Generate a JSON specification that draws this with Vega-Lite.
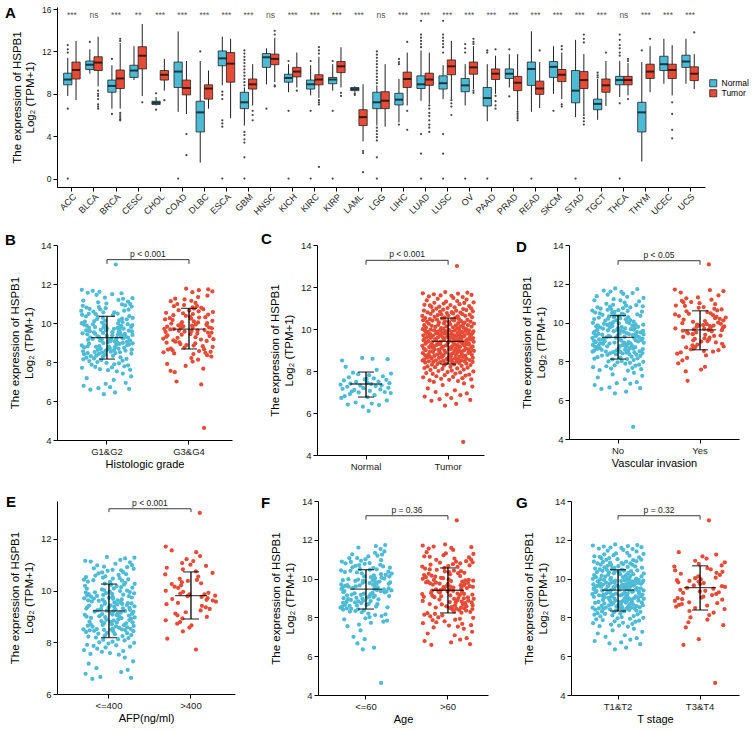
{
"$schema": "https://vega.github.io/schema/vega-lite/v6.json",
"padding": {"left": 5, "top": 5, "right": 0, "bottom": 0},
"spacing": 15,
"resolve": {"scale": {"color": "independent", "xOffset": "independent"}},
"config": {
  "font": "Liberation Sans",
  "view": {"stroke": null},
  "axis": {"grid": false, "domainColor": "#000", "tickColor": "#000", "labelColor": "#1a1a1a", "labelFontSize": 9.5, "titleFontSize": 11.5, "titleFontWeight": "normal", "titleColor": "#000", "tickSize": 4, "labelPadding": 2, "domainWidth": 1, "tickWidth": 1, "labelOverlap": false},
  "axisY": {"titlePadding": 6, "labelOverlap": false, "labelFlush": false, "tickCount": 12, "format": "d"},
  "axisX": {"titlePadding": 3, "titleFontSize": 11},
  "title": {"fontSize": 15, "fontWeight": "bold", "anchor": "start", "frame": "group", "offset": 0, "baseline": "alphabetic", "color": "#000", "font": "Liberation Sans"}
},
"datasets": {
"box": [
{"t":"ACC","g":"Normal","lo":7.8,"q1":8.85,"md":9.35,"q3":9.95,"hi":11.4},
{"t":"ACC","g":"Tumor","lo":7.4,"q1":9.4,"md":10.25,"q3":11.0,"hi":13.0},
{"t":"BLCA","g":"Normal","lo":9.9,"q1":10.3,"md":10.75,"q3":11.1,"hi":12.2},
{"t":"BLCA","g":"Tumor","lo":8.7,"q1":10.2,"md":10.95,"q3":11.5,"hi":13.4},
{"t":"BRCA","g":"Normal","lo":6.6,"q1":8.15,"md":8.75,"q3":9.3,"hi":10.7},
{"t":"BRCA","g":"Tumor","lo":6.6,"q1":8.5,"md":9.45,"q3":10.25,"hi":12.8},
{"t":"CESC","g":"Normal","lo":9.3,"q1":9.55,"md":10.2,"q3":10.7,"hi":12.5},
{"t":"CESC","g":"Tumor","lo":7.8,"q1":10.35,"md":11.6,"q3":12.45,"hi":14.6},
{"t":"CHOL","g":"Normal","lo":6.9,"q1":7.0,"md":7.15,"q3":7.3,"hi":7.7},
{"t":"CHOL","g":"Tumor","lo":8.3,"q1":9.3,"md":9.8,"q3":10.2,"hi":11.3},
{"t":"COAD","g":"Normal","lo":6.3,"q1":8.6,"md":10.1,"q3":11.0,"hi":13.9},
{"t":"COAD","g":"Tumor","lo":6.1,"q1":7.9,"md":8.55,"q3":9.3,"hi":11.1},
{"t":"DLBC","g":"Normal","lo":1.5,"q1":4.4,"md":6.25,"q3":7.3,"hi":11.1},
{"t":"DLBC","g":"Tumor","lo":6.6,"q1":7.5,"md":8.5,"q3":8.85,"hi":10.2},
{"t":"ESCA","g":"Normal","lo":8.8,"q1":10.65,"md":11.35,"q3":12.05,"hi":13.4},
{"t":"ESCA","g":"Tumor","lo":5.7,"q1":9.1,"md":10.85,"q3":11.9,"hi":13.2},
{"t":"GBM","g":"Normal","lo":5.0,"q1":6.6,"md":7.2,"q3":8.15,"hi":8.6},
{"t":"GBM","g":"Tumor","lo":6.9,"q1":8.45,"md":8.9,"q3":9.4,"hi":10.8},
{"t":"HNSC","g":"Normal","lo":8.9,"q1":10.5,"md":11.45,"q3":11.8,"hi":12.3},
{"t":"HNSC","g":"Tumor","lo":9.1,"q1":10.75,"md":11.3,"q3":11.75,"hi":13.3},
{"t":"KICH","g":"Normal","lo":8.15,"q1":9.1,"md":9.5,"q3":9.85,"hi":10.8},
{"t":"KICH","g":"Tumor","lo":8.6,"q1":9.6,"md":10.1,"q3":10.5,"hi":11.9},
{"t":"KIRC","g":"Normal","lo":7.85,"q1":8.45,"md":8.9,"q3":9.3,"hi":10.7},
{"t":"KIRC","g":"Tumor","lo":7.6,"q1":8.85,"md":9.35,"q3":9.8,"hi":11.5},
{"t":"KIRP","g":"Normal","lo":8.3,"q1":8.95,"md":9.35,"q3":9.55,"hi":10.8},
{"t":"KIRP","g":"Tumor","lo":8.6,"q1":10.0,"md":10.6,"q3":11.05,"hi":12.4},
{"t":"LAML","g":"Normal","lo":8.2,"q1":8.3,"md":8.45,"q3":8.6,"hi":8.7},
{"t":"LAML","g":"Tumor","lo":3.5,"q1":5.0,"md":5.8,"q3":6.5,"hi":8.9},
{"t":"LGG","g":"Normal","lo":5.0,"q1":6.6,"md":7.2,"q3":8.15,"hi":8.8},
{"t":"LGG","g":"Tumor","lo":4.9,"q1":6.6,"md":7.35,"q3":8.2,"hi":10.8},
{"t":"LIHC","g":"Normal","lo":5.3,"q1":6.95,"md":7.45,"q3":8.05,"hi":9.4},
{"t":"LIHC","g":"Tumor","lo":6.9,"q1":8.6,"md":9.4,"q3":10.05,"hi":11.9},
{"t":"LUAD","g":"Normal","lo":7.35,"q1":8.5,"md":8.9,"q3":9.7,"hi":12.1},
{"t":"LUAD","g":"Tumor","lo":7.05,"q1":8.8,"md":9.35,"q3":9.95,"hi":11.9},
{"t":"LUSC","g":"Normal","lo":7.5,"q1":8.45,"md":9.0,"q3":9.7,"hi":10.7},
{"t":"LUSC","g":"Tumor","lo":7.5,"q1":9.8,"md":10.6,"q3":11.2,"hi":13.0},
{"t":"OV","g":"Normal","lo":6.9,"q1":8.2,"md":8.8,"q3":9.45,"hi":10.8},
{"t":"OV","g":"Tumor","lo":8.45,"q1":9.85,"md":10.5,"q3":11.0,"hi":12.5},
{"t":"PAAD","g":"Normal","lo":5.4,"q1":6.85,"md":7.6,"q3":8.6,"hi":10.8},
{"t":"PAAD","g":"Tumor","lo":8.0,"q1":9.35,"md":9.9,"q3":10.35,"hi":11.6},
{"t":"PRAD","g":"Normal","lo":8.6,"q1":9.45,"md":9.9,"q3":10.35,"hi":11.75},
{"t":"PRAD","g":"Tumor","lo":6.4,"q1":8.3,"md":9.05,"q3":9.65,"hi":11.75},
{"t":"READ","g":"Normal","lo":6.3,"q1":8.8,"md":10.35,"q3":11.0,"hi":13.9},
{"t":"READ","g":"Tumor","lo":6.65,"q1":7.95,"md":8.5,"q3":9.2,"hi":11.0},
{"t":"SKCM","g":"Normal","lo":8.0,"q1":9.55,"md":10.55,"q3":11.05,"hi":12.5},
{"t":"SKCM","g":"Tumor","lo":7.5,"q1":9.15,"md":9.8,"q3":10.3,"hi":11.9},
{"t":"STAD","g":"Normal","lo":5.8,"q1":7.15,"md":8.3,"q3":10.2,"hi":13.1},
{"t":"STAD","g":"Tumor","lo":6.1,"q1":8.5,"md":9.3,"q3":10.1,"hi":11.75},
{"t":"TGCT","g":"Normal","lo":5.55,"q1":6.5,"md":7.05,"q3":7.5,"hi":9.4},
{"t":"TGCT","g":"Tumor","lo":6.85,"q1":8.15,"md":8.8,"q3":9.4,"hi":11.1},
{"t":"THCA","g":"Normal","lo":7.7,"q1":8.85,"md":9.3,"q3":9.65,"hi":11.1},
{"t":"THCA","g":"Tumor","lo":7.85,"q1":8.85,"md":9.3,"q3":9.65,"hi":10.9},
{"t":"THYM","g":"Normal","lo":1.6,"q1":4.4,"md":6.25,"q3":7.2,"hi":11.0},
{"t":"THYM","g":"Tumor","lo":8.15,"q1":9.45,"md":10.1,"q3":10.8,"hi":12.5},
{"t":"UCEC","g":"Normal","lo":8.95,"q1":10.2,"md":10.8,"q3":11.55,"hi":13.2},
{"t":"UCEC","g":"Tumor","lo":7.85,"q1":9.45,"md":10.25,"q3":10.8,"hi":12.6},
{"t":"UCS","g":"Normal","lo":8.95,"q1":10.5,"md":11.05,"q3":11.65,"hi":13.2},
{"t":"UCS","g":"Tumor","lo":8.45,"q1":9.25,"md":9.9,"q3":10.55,"hi":11.75}
],
"out": [
{"t":"ACC","g":"Normal","v":12.6},{"t":"ACC","g":"Normal","v":12.2},{"t":"ACC","g":"Normal","v":11.9},{"t":"ACC","g":"Normal","v":6.6},{"t":"ACC","g":"Normal","v":0},
{"t":"BLCA","g":"Normal","v":12.9},{"t":"BLCA","g":"Tumor","v":8.3},{"t":"BLCA","g":"Tumor","v":8.0},{"t":"BLCA","g":"Tumor","v":7.8},{"t":"BLCA","g":"Tumor","v":7.5},{"t":"BLCA","g":"Tumor","v":7.0},{"t":"BLCA","g":"Tumor","v":6.8},{"t":"BLCA","g":"Tumor","v":6.6},
{"t":"BRCA","g":"Normal","v":11.3},{"t":"BRCA","g":"Normal","v":6.1},{"t":"BRCA","g":"Tumor","v":13.2},{"t":"BRCA","g":"Tumor","v":13.0},{"t":"BRCA","g":"Tumor","v":6.2},{"t":"BRCA","g":"Tumor","v":6.0},{"t":"BRCA","g":"Tumor","v":5.8},{"t":"BRCA","g":"Tumor","v":5.6},{"t":"BRCA","g":"Tumor","v":5.5},
{"t":"CESC","g":"Tumor","v":7.2},
{"t":"CHOL","g":"Normal","v":8.05},{"t":"CHOL","g":"Normal","v":6.5},{"t":"CHOL","g":"Tumor","v":7.4},
{"t":"COAD","g":"Normal","v":0},{"t":"COAD","g":"Tumor","v":4.2},{"t":"COAD","g":"Tumor","v":2.2},
{"t":"DLBC","g":"Normal","v":12.0},
{"t":"ESCA","g":"Normal","v":8.2},{"t":"ESCA","g":"Normal","v":7.9},{"t":"ESCA","g":"Normal","v":7.5},{"t":"ESCA","g":"Normal","v":5.5},{"t":"ESCA","g":"Normal","v":5.2},{"t":"ESCA","g":"Normal","v":4.9},{"t":"ESCA","g":"Normal","v":0},
{"t":"GBM","g":"Normal","v":8.8},{"t":"GBM","g":"Normal","v":9.1},{"t":"GBM","g":"Normal","v":9.4},{"t":"GBM","g":"Normal","v":9.7},{"t":"GBM","g":"Normal","v":10.0},{"t":"GBM","g":"Normal","v":10.3},{"t":"GBM","g":"Normal","v":10.6},{"t":"GBM","g":"Normal","v":10.9},{"t":"GBM","g":"Normal","v":11.2},{"t":"GBM","g":"Normal","v":11.5},{"t":"GBM","g":"Normal","v":11.8},{"t":"GBM","g":"Normal","v":12.1},{"t":"GBM","g":"Normal","v":4.4},{"t":"GBM","g":"Normal","v":4.1},{"t":"GBM","g":"Normal","v":3.7},{"t":"GBM","g":"Normal","v":3.4},{"t":"GBM","g":"Normal","v":2.0},{"t":"GBM","g":"Normal","v":0},
{"t":"GBM","g":"Tumor","v":6.4},{"t":"GBM","g":"Tumor","v":6.0},{"t":"GBM","g":"Tumor","v":5.5},
{"t":"HNSC","g":"Normal","v":6.6},{"t":"HNSC","g":"Tumor","v":13.95},{"t":"HNSC","g":"Tumor","v":13.6},{"t":"HNSC","g":"Tumor","v":8.8},{"t":"HNSC","g":"Tumor","v":8.7},
{"t":"KICH","g":"Normal","v":11.1},{"t":"KICH","g":"Normal","v":6.4},{"t":"KICH","g":"Normal","v":0},{"t":"KICH","g":"Tumor","v":8.3},
{"t":"KIRC","g":"Normal","v":11.1},{"t":"KIRC","g":"Normal","v":6.4},{"t":"KIRC","g":"Normal","v":0},{"t":"KIRC","g":"Tumor","v":12.4},{"t":"KIRC","g":"Tumor","v":12.1},{"t":"KIRC","g":"Tumor","v":11.8},{"t":"KIRC","g":"Tumor","v":7.4},{"t":"KIRC","g":"Tumor","v":7.2},{"t":"KIRC","g":"Tumor","v":7.0},{"t":"KIRC","g":"Tumor","v":1.1},
{"t":"KIRP","g":"Normal","v":11.1},{"t":"KIRP","g":"Normal","v":6.4},{"t":"KIRP","g":"Normal","v":0},{"t":"KIRP","g":"Tumor","v":8.1},{"t":"KIRP","g":"Tumor","v":7.8},
{"t":"LAML","g":"Normal","v":8.05},{"t":"LAML","g":"Normal","v":7.9},{"t":"LAML","g":"Tumor","v":2.6},{"t":"LAML","g":"Tumor","v":2.4},{"t":"LAML","g":"Tumor","v":0.6},
{"t":"LGG","g":"Normal","v":9.0},{"t":"LGG","g":"Normal","v":9.3},{"t":"LGG","g":"Normal","v":9.6},{"t":"LGG","g":"Normal","v":9.9},{"t":"LGG","g":"Normal","v":10.2},{"t":"LGG","g":"Normal","v":10.5},{"t":"LGG","g":"Normal","v":10.8},{"t":"LGG","g":"Normal","v":11.1},{"t":"LGG","g":"Normal","v":11.4},{"t":"LGG","g":"Normal","v":11.7},{"t":"LGG","g":"Normal","v":12.0},{"t":"LGG","g":"Normal","v":4.8},{"t":"LGG","g":"Normal","v":4.5},{"t":"LGG","g":"Normal","v":4.2},{"t":"LGG","g":"Normal","v":3.9},{"t":"LGG","g":"Normal","v":3.6},{"t":"LGG","g":"Normal","v":2.0},{"t":"LGG","g":"Normal","v":0},
{"t":"LIHC","g":"Normal","v":11.3},{"t":"LIHC","g":"Normal","v":11.0},{"t":"LIHC","g":"Normal","v":10.8},{"t":"LIHC","g":"Normal","v":5.1},{"t":"LIHC","g":"Tumor","v":12.9},{"t":"LIHC","g":"Tumor","v":6.4},{"t":"LIHC","g":"Tumor","v":4.6},
{"t":"LUAD","g":"Normal","v":14.9},{"t":"LUAD","g":"Normal","v":13.6},{"t":"LUAD","g":"Normal","v":13.3},{"t":"LUAD","g":"Normal","v":13.0},{"t":"LUAD","g":"Normal","v":12.7},{"t":"LUAD","g":"Normal","v":12.4},{"t":"LUAD","g":"Normal","v":4.2},{"t":"LUAD","g":"Normal","v":2.35},{"t":"LUAD","g":"Normal","v":0},
{"t":"LUAD","g":"Tumor","v":6.9},{"t":"LUAD","g":"Tumor","v":6.6},{"t":"LUAD","g":"Tumor","v":6.2},{"t":"LUAD","g":"Tumor","v":5.9},{"t":"LUAD","g":"Tumor","v":5.5},{"t":"LUAD","g":"Tumor","v":5.1},{"t":"LUAD","g":"Tumor","v":4.8},{"t":"LUAD","g":"Tumor","v":4.4},
{"t":"LUSC","g":"Normal","v":14.9},{"t":"LUSC","g":"Normal","v":13.6},{"t":"LUSC","g":"Normal","v":13.3},{"t":"LUSC","g":"Normal","v":13.0},{"t":"LUSC","g":"Normal","v":12.7},{"t":"LUSC","g":"Normal","v":12.4},{"t":"LUSC","g":"Normal","v":11.9},{"t":"LUSC","g":"Normal","v":4.2},{"t":"LUSC","g":"Normal","v":2.35},{"t":"LUSC","g":"Normal","v":0},
{"t":"LUSC","g":"Tumor","v":7.4},{"t":"LUSC","g":"Tumor","v":7.1},{"t":"LUSC","g":"Tumor","v":6.8},{"t":"LUSC","g":"Tumor","v":6.0},
{"t":"OV","g":"Normal","v":12.7},{"t":"OV","g":"Normal","v":12.3},{"t":"OV","g":"Normal","v":11.9},{"t":"OV","g":"Normal","v":0},{"t":"OV","g":"Tumor","v":13.2},{"t":"OV","g":"Tumor","v":12.9},{"t":"OV","g":"Tumor","v":12.7},{"t":"OV","g":"Tumor","v":8.3},{"t":"OV","g":"Tumor","v":8.1},
{"t":"PAAD","g":"Normal","v":12.1},{"t":"PAAD","g":"Normal","v":11.9},{"t":"PAAD","g":"Normal","v":0},{"t":"PAAD","g":"Tumor","v":12.2},{"t":"PAAD","g":"Tumor","v":7.8},{"t":"PAAD","g":"Tumor","v":7.3},{"t":"PAAD","g":"Tumor","v":6.9},{"t":"PAAD","g":"Tumor","v":6.6},
{"t":"PRAD","g":"Normal","v":12.2},{"t":"PRAD","g":"Normal","v":7.75},{"t":"PRAD","g":"Tumor","v":6.3},{"t":"PRAD","g":"Tumor","v":6.1},{"t":"PRAD","g":"Tumor","v":5.9},{"t":"PRAD","g":"Tumor","v":5.7},{"t":"PRAD","g":"Tumor","v":5.5},
{"t":"READ","g":"Normal","v":0},{"t":"READ","g":"Tumor","v":12.1},
{"t":"SKCM","g":"Normal","v":6.4},{"t":"SKCM","g":"Tumor","v":12.5},{"t":"SKCM","g":"Tumor","v":12.2},{"t":"SKCM","g":"Tumor","v":7.0},{"t":"SKCM","g":"Tumor","v":6.8},
{"t":"STAD","g":"Normal","v":0},{"t":"STAD","g":"Tumor","v":13.6},{"t":"STAD","g":"Tumor","v":13.2},{"t":"STAD","g":"Tumor","v":12.85},{"t":"STAD","g":"Tumor","v":6.0},{"t":"STAD","g":"Tumor","v":5.7},{"t":"STAD","g":"Tumor","v":5.4},{"t":"STAD","g":"Tumor","v":5.1},
{"t":"TGCT","g":"Normal","v":10.0},{"t":"TGCT","g":"Normal","v":9.75},{"t":"TGCT","g":"Normal","v":9.55},{"t":"TGCT","g":"Tumor","v":11.9},
{"t":"THCA","g":"Normal","v":13.6},{"t":"THCA","g":"Normal","v":13.1},{"t":"THCA","g":"Normal","v":12.6},{"t":"THCA","g":"Normal","v":12.3},{"t":"THCA","g":"Normal","v":11.9},{"t":"THCA","g":"Normal","v":11.6},{"t":"THCA","g":"Normal","v":7.1},{"t":"THCA","g":"Normal","v":0},
{"t":"THCA","g":"Tumor","v":11.3},{"t":"THCA","g":"Tumor","v":11.1},{"t":"THCA","g":"Tumor","v":7.5},
{"t":"THYM","g":"Normal","v":12.1},{"t":"THYM","g":"Tumor","v":13.2},
{"t":"UCEC","g":"Tumor","v":7.2},{"t":"UCEC","g":"Tumor","v":6.1},{"t":"UCEC","g":"Tumor","v":4.6},{"t":"UCEC","g":"Tumor","v":3.8},
{"t":"UCS","g":"Tumor","v":13.8}
],
"sig": [
{"t":"ACC","s":"***"},{"t":"BLCA","s":"ns"},{"t":"BRCA","s":"***"},{"t":"CESC","s":"**"},{"t":"CHOL","s":"***"},{"t":"COAD","s":"***"},{"t":"DLBC","s":"***"},{"t":"ESCA","s":"***"},{"t":"GBM","s":"***"},{"t":"HNSC","s":"ns"},{"t":"KICH","s":"***"},{"t":"KIRC","s":"***"},{"t":"KIRP","s":"***"},{"t":"LAML","s":"***"},{"t":"LGG","s":"ns"},{"t":"LIHC","s":"***"},{"t":"LUAD","s":"***"},{"t":"LUSC","s":"***"},{"t":"OV","s":"***"},{"t":"PAAD","s":"***"},{"t":"PRAD","s":"***"},{"t":"READ","s":"***"},{"t":"SKCM","s":"***"},{"t":"STAD","s":"***"},{"t":"TGCT","s":"***"},{"t":"THCA","s":"ns"},{"t":"THYM","s":"***"},{"t":"UCEC","s":"***"},{"t":"UCS","s":"***"}
],
"stats": [
{"p":"B","grp":1,"m":9.25,"lo":8.15,"hi":10.34},{"p":"B","grp":2,"m":9.69,"lo":8.67,"hi":10.75},
{"p":"C","grp":1,"m":7.38,"lo":6.76,"hi":7.95},{"p":"C","grp":2,"m":9.41,"lo":8.33,"hi":10.52},
{"p":"D","grp":1,"m":9.24,"lo":8.12,"hi":10.36},{"p":"D","grp":2,"m":9.63,"lo":8.6,"hi":10.61},
{"p":"E","grp":1,"m":9.21,"lo":8.18,"hi":10.25},{"p":"E","grp":2,"m":9.8,"lo":8.9,"hi":10.72},
{"p":"F","grp":1,"m":9.46,"lo":8.43,"hi":10.46},{"p":"F","grp":2,"m":9.4,"lo":8.23,"hi":10.55},
{"p":"G","grp":1,"m":9.41,"lo":8.33,"hi":10.46},{"p":"G","grp":2,"m":9.53,"lo":8.38,"hi":10.66}
],
"br": [
{"p":"B","a":1,"b":2,"y":13.25,"lo":13.03,"txt":"p < 0.001"},
{"p":"C","a":1,"b":2,"y":13.27,"lo":13.06,"txt":"p < 0.001"},
{"p":"D","a":1,"b":2,"y":13.19,"lo":12.98,"txt":"p < 0.05"},
{"p":"E","a":1,"b":2,"y":13.16,"lo":13.03,"txt":"p < 0.001"},
{"p":"F","a":1,"b":2,"y":13.24,"lo":13.04,"txt":"p = 0.36"},
{"p":"G","a":1,"b":2,"y":13.24,"lo":13.04,"txt":"p = 0.32"}
],
"nrm": [
{"v":8.5,"j":-0.92},{"v":8.58,"j":0.25},{"v":8.62,"j":-0.15},{"v":8.56,"j":0.83},{"v":8.2,"j":-0.78},{"v":8.05,"j":0.41},{"v":7.92,"j":-0.5},{"v":7.88,"j":0.96},{"v":7.85,"j":-0.3},{"v":7.8,"j":0.12},
{"v":7.75,"j":0.65},{"v":7.7,"j":-0.66},{"v":7.65,"j":0.3},{"v":7.6,"j":-0.05},{"v":7.58,"j":0.78},{"v":7.55,"j":-0.85},{"v":7.5,"j":0.48},{"v":7.48,"j":-0.38},{"v":7.45,"j":0.05},{"v":7.42,"j":0.9},
{"v":7.4,"j":-0.6},{"v":7.38,"j":0.2},{"v":7.35,"j":-0.98},{"v":7.32,"j":0.6},{"v":7.3,"j":-0.22},{"v":7.28,"j":0.37},{"v":7.25,"j":-0.72},{"v":7.2,"j":0.86},{"v":7.18,"j":-0.1},{"v":7.15,"j":-0.9},
{"v":7.12,"j":0.55},{"v":7.1,"j":-0.45},{"v":7.05,"j":0.15},{"v":7.0,"j":0.72},{"v":6.98,"j":-0.28},{"v":6.95,"j":0.95},{"v":6.9,"j":-0.62},{"v":6.85,"j":0.33},{"v":6.8,"j":-0.82},{"v":6.75,"j":0.05},
{"v":6.72,"j":-0.95},{"v":6.6,"j":0.8},{"v":6.5,"j":-0.4},{"v":6.45,"j":0.22},{"v":6.4,"j":-0.7},{"v":6.38,"j":0.5},{"v":6.3,"j":-0.12},{"v":6.1,"j":0.1},{"v":7.62,"j":0.02},{"v":7.02,"j":-0.55}
],
"lihc": [
{"v":4.62,"j":0.58,"g":2,"i":1,"e":1,"t":2},
{"v":6.35,"j":-0.12,"g":1,"i":1,"e":1,"t":1},
{"v":6.44,"j":0.31,"g":1,"i":1,"e":1,"t":1},
{"v":6.58,"j":-0.64,"g":1,"i":1,"a":1,"e":2,"t":2},
{"v":6.62,"j":0.85,"g":1,"i":1,"a":1,"e":2,"t":1},
{"v":6.66,"j":-0.33,"g":1,"i":1,"a":1,"e":1,"t":1},
{"v":6.71,"j":0.12,"g":1,"e":2,"t":1},
{"v":6.78,"j":-0.9,"g":1,"i":1,"a":1,"e":2,"t":1},
{"v":6.85,"j":0.47,"g":2,"i":1,"a":1,"e":2,"t":1},
{"v":6.88,"j":-0.05,"g":1,"i":1,"e":1,"t":2},
{"v":6.93,"j":0.72,"g":1,"i":1,"a":1,"e":2,"t":1},
{"v":7.0,"j":-0.48,"g":2,"i":2,"a":1,"e":1,"t":1},
{"v":7.08,"j":0.26,"g":1,"i":1,"e":2,"t":1},
{"v":7.17,"j":-0.78,"g":1,"i":1,"a":1,"e":2,"t":1},
{"v":7.26,"j":0.93,"g":1,"i":1,"a":1,"e":2,"t":1},
{"v":7.33,"j":-0.21,"i":1,"e":1,"t":1},
{"v":7.41,"j":0.61,"g":1,"i":1,"a":1,"e":2,"t":1},
{"v":7.48,"j":-0.55,"g":2,"i":2,"e":2,"t":2},
{"v":7.52,"j":0.38,"g":1,"i":1,"a":1,"e":2,"t":1},
{"v":7.55,"j":-0.71,"g":2,"i":1,"a":1,"e":1,"t":1},
{"v":7.58,"j":0.04,"g":1,"i":2,"a":1,"e":2,"t":1},
{"v":7.6,"j":0.89,"g":1,"i":1,"e":2,"t":2},
{"v":7.63,"j":-0.27,"g":1,"i":1,"a":1,"e":1,"t":1},
{"v":7.66,"j":0.55,"g":2,"i":1,"a":1,"e":2,"t":1},
{"v":7.7,"j":-0.96,"g":1,"i":1,"a":1,"e":2,"t":1},
{"v":7.72,"j":0.19,"g":1,"i":2,"a":2,"e":1,"t":1},
{"v":7.75,"j":-0.45,"g":1,"i":1,"a":1,"e":2,"t":2},
{"v":7.78,"j":0.67,"g":1,"i":1,"e":1,"t":1},
{"v":7.8,"j":-0.13,"g":2,"i":1,"a":1,"e":2,"t":1},
{"v":7.83,"j":0.81,"g":1,"i":1,"a":1,"e":1,"t":1},
{"v":7.86,"j":-0.59,"g":1,"a":1,"e":2,"t":1},
{"v":7.88,"j":0.28,"g":1,"i":1,"a":1,"e":2,"t":2},
{"v":7.9,"j":-0.84,"g":2,"i":2,"a":1,"e":1,"t":1},
{"v":7.93,"j":0.46,"g":1,"i":1,"e":2,"t":1},
{"v":7.95,"j":-0.02,"g":1,"i":1,"a":1,"e":1,"t":1},
{"v":7.98,"j":0.97,"i":1,"a":1,"e":2,"t":1},
{"v":8.0,"j":-0.37,"g":1,"i":1,"a":1,"e":2,"t":2},
{"v":8.02,"j":0.14,"g":2,"i":1,"a":1,"e":1,"t":1},
{"v":8.05,"j":-0.68,"g":1,"i":2,"e":2,"t":1},
{"v":8.07,"j":0.6,"g":1,"i":1,"a":1,"e":1,"t":1},
{"v":8.1,"j":-0.22,"g":1,"i":1,"a":1,"e":2,"t":1},
{"v":8.12,"j":0.35,"g":2,"i":1,"a":1,"e":1,"t":2},
{"v":8.14,"j":-0.91,"g":1,"i":1,"a":2,"e":2,"t":1},
{"v":8.16,"j":0.75,"g":1,"i":1,"a":1,"e":1,"t":1},
{"v":8.18,"j":-0.5,"g":1,"i":2,"a":1,"e":2,"t":1},
{"v":8.2,"j":0.09,"g":2,"i":1,"e":1,"t":1},
{"v":8.22,"j":-0.79,"g":1,"i":1,"a":1,"e":2,"t":1},
{"v":8.24,"j":0.52,"g":1,"i":1,"a":1,"e":2,"t":2},
{"v":8.26,"j":-0.16,"g":1,"a":1,"e":1,"t":1},
{"v":8.28,"j":0.86,"g":2,"i":1,"a":1,"e":2,"t":1},
{"v":8.3,"j":-0.62,"g":1,"i":1,"e":1,"t":1},
{"v":8.31,"j":0.23,"g":1,"i":2,"a":1,"e":2,"t":1},
{"v":8.33,"j":-0.41,"g":1,"i":1,"a":1,"e":1,"t":2},
{"v":8.35,"j":0.7,"g":2,"i":1,"a":1,"e":2,"t":1},
{"v":8.36,"j":-0.08,"g":1,"i":1,"a":1,"e":1,"t":1},
{"v":8.38,"j":0.43,"i":1,"e":2,"t":1},
{"v":8.4,"j":-0.88,"g":1,"i":2,"a":1,"e":1,"t":1},
{"v":8.41,"j":0.17,"g":2,"i":1,"a":1,"e":2,"t":1},
{"v":8.42,"j":-0.31,"g":1,"i":1,"a":2,"e":1,"t":1},
{"v":8.43,"j":0.94,"g":1,"i":1,"a":1,"e":2,"t":2},
{"v":8.44,"j":-0.57,"g":2,"a":1,"e":1,"t":1},
{"v":8.45,"j":0.32,"g":1,"i":1,"e":2,"t":1},
{"v":8.46,"j":-0.74,"g":1,"i":2,"a":1,"e":1,"t":1},
{"v":8.47,"j":0.63,"g":2,"i":1,"a":1,"e":2,"t":1},
{"v":8.48,"j":-0.19,"g":1,"i":1,"a":1,"t":2},
{"v":8.49,"j":0.08,"i":1,"a":1,"e":2,"t":1},
{"v":8.5,"j":-0.98,"g":2,"i":1,"a":1,"e":1,"t":1},
{"v":8.5,"j":0.5,"g":1,"i":2,"a":1,"e":2,"t":1},
{"v":8.51,"j":-0.47,"g":1,"i":1,"a":1,"e":2,"t":1},
{"v":8.52,"j":0.83,"g":2,"i":1,"a":1,"e":1,"t":1},
{"v":8.53,"j":0.15,"g":1,"i":2,"a":1,"e":2,"t":1},
{"v":8.55,"j":-0.92,"g":1,"i":1,"e":1,"t":2},
{"v":8.56,"j":0.39,"g":2,"i":1,"a":1,"e":1,"t":1},
{"v":8.57,"j":-0.06,"g":1,"i":1,"a":2,"e":2,"t":1},
{"v":8.58,"j":0.71,"g":1,"i":2,"a":1,"e":2,"t":1},
{"v":8.6,"j":-0.63,"g":2,"i":1,"a":1,"e":1,"t":1},
{"v":8.61,"j":0.27,"g":1,"i":1,"a":1,"e":2,"t":2},
{"v":8.62,"j":-0.35,"g":1,"i":2,"e":1,"t":1},
{"v":8.63,"j":0.95,"g":1,"i":1,"a":1,"e":2,"t":1},
{"v":8.64,"j":-0.81,"g":2,"i":1,"a":1,"e":1,"t":2},
{"v":8.65,"j":0.02,"g":1,"i":1,"a":2,"e":1,"t":1},
{"v":8.66,"j":0.58,"g":2,"i":1,"a":1,"e":2,"t":1},
{"v":8.67,"j":-0.24,"g":1,"i":2,"a":1,"e":2,"t":1},
{"v":8.68,"j":0.44,"g":1,"i":1,"e":1,"t":1},
{"v":8.69,"j":-0.7,"g":2,"i":1,"a":1,"e":2,"t":2},
{"v":8.7,"j":0.11,"g":1,"a":1,"e":1,"t":1},
{"v":8.72,"j":-0.53,"i":2,"a":2,"t":1},
{"v":8.73,"j":0.66,"g":1,"i":1,"a":1,"e":2,"t":2},
{"v":8.74,"j":-0.18,"g":2,"i":2,"a":1,"e":1,"t":1},
{"v":8.75,"j":-0.88,"g":1,"i":1,"e":1,"t":1},
{"v":8.76,"j":0.3,"g":1,"i":1,"a":1,"e":2,"t":1},
{"v":8.77,"j":0.91,"g":2,"i":2,"a":1,"e":2,"t":1},
{"v":8.78,"j":-0.42,"g":1,"i":1,"a":2,"e":1,"t":2},
{"v":8.79,"j":0.07,"g":1,"i":1,"a":1,"e":2,"t":1},
{"v":8.8,"j":-0.75,"g":1,"i":1,"a":1,"e":1,"t":1},
{"v":8.81,"j":0.53,"g":2,"i":1,"e":2,"t":1},
{"v":8.82,"j":-0.29,"g":1,"i":2,"a":1,"e":1,"t":1},
{"v":8.84,"j":0.18,"g":2,"i":1,"a":1,"e":1,"t":1},
{"v":8.85,"j":-0.97,"g":1,"i":1,"a":2,"e":2,"t":2},
{"v":8.86,"j":0.78,"g":1,"a":1,"e":2,"t":1},
{"v":8.87,"j":-0.1,"g":2,"i":2,"a":1,"e":1,"t":1},
{"v":8.88,"j":0.36,"g":1,"i":1,"a":1,"e":2,"t":1},
{"v":8.9,"j":-0.58,"i":1,"e":1,"t":1},
{"v":8.91,"j":0.85,"g":1,"i":2,"a":1,"t":2},
{"v":8.92,"j":-0.33,"g":2,"i":1,"a":2,"e":2,"t":1},
{"v":8.93,"j":0.48,"g":1,"i":1,"a":1,"e":1,"t":1},
{"v":8.94,"j":-0.69,"g":1,"i":1,"a":1,"e":1,"t":2},
{"v":8.95,"j":0.24,"g":2,"i":1,"e":2,"t":1},
{"v":8.96,"j":0.99,"g":1,"i":1,"a":1,"e":2,"t":1},
{"v":8.97,"j":-0.14,"g":1,"i":1,"a":1,"e":1,"t":1},
{"v":8.98,"j":0.61,"g":1,"i":2,"a":2,"e":2,"t":1},
{"v":8.99,"j":-0.86,"g":2,"i":1,"a":1,"e":1,"t":2},
{"v":9.0,"j":0.4,"g":1,"i":1,"a":1,"e":2,"t":1},
{"v":9.01,"j":-0.37,"g":2,"a":1,"e":1,"t":1},
{"v":9.02,"j":0.05,"g":1,"i":2,"e":1,"t":2},
{"v":9.03,"j":0.77,"g":1,"i":1,"a":1,"e":2,"t":1},
{"v":9.04,"j":-0.52,"g":2,"i":1,"a":2,"e":2,"t":1},
{"v":9.05,"j":0.29,"g":1,"i":2,"a":1,"e":1,"t":1},
{"v":9.06,"j":-0.93,"i":1,"a":1,"e":2,"t":1},
{"v":9.07,"j":0.13,"g":1,"i":1,"a":1,"e":1,"t":2},
{"v":9.08,"j":0.68,"g":2,"i":1,"t":1},
{"v":9.09,"j":-0.26,"g":1,"i":2,"a":1,"e":2,"t":1},
{"v":9.1,"j":0.89,"g":1,"i":1,"a":1,"e":1,"t":1},
{"v":9.11,"j":-0.6,"g":2,"i":1,"a":2,"e":2,"t":1},
{"v":9.12,"j":0.34,"g":1,"i":2,"a":1,"e":1,"t":1},
{"v":9.13,"j":0.09,"g":1,"i":1,"a":1,"e":2,"t":1},
{"v":9.14,"j":-0.73,"g":1,"i":1,"e":1,"t":1},
{"v":9.15,"j":0.46,"g":2,"a":1,"e":2,"t":2},
{"v":9.16,"j":-0.2,"g":1,"i":2,"a":2,"e":1,"t":1},
{"v":9.17,"j":0.94,"g":2,"i":1,"a":1,"e":2,"t":1},
{"v":9.18,"j":-0.55,"g":1,"i":1,"a":1,"e":1,"t":1},
{"v":9.19,"j":0.17,"g":1,"i":2,"a":1,"e":1,"t":1},
{"v":9.2,"j":-0.99,"g":2,"i":1,"e":2,"t":1},
{"v":9.21,"j":0.62,"g":1,"i":1,"a":1,"e":2,"t":2},
{"v":9.22,"j":-0.08,"i":1,"a":1,"e":1,"t":1},
{"v":9.23,"j":0.37,"g":1,"i":2,"a":2,"e":2,"t":1},
{"v":9.24,"j":-0.44,"g":2,"i":1,"a":1,"e":1,"t":1},
{"v":9.25,"j":0.81,"g":1,"i":1,"a":1,"t":1},
{"v":9.26,"j":-0.65,"g":1,"i":2,"e":2,"t":2},
{"v":9.27,"j":0.25,"g":2,"i":1,"a":1,"e":1,"t":1},
{"v":9.28,"j":-0.31,"g":1,"i":1,"a":1,"e":2,"t":1},
{"v":9.29,"j":0.72,"g":1,"i":1,"a":2,"e":1,"t":2},
{"v":9.3,"j":-0.87,"g":2,"i":1,"a":1,"e":1,"t":1},
{"v":9.31,"j":0.54,"g":1,"i":2,"a":1,"e":2,"t":1},
{"v":9.32,"j":-0.36,"g":1,"i":1,"e":2,"t":1},
{"v":9.33,"j":0.79,"g":2,"i":2,"a":1,"e":1,"t":1},
{"v":9.34,"j":-0.01,"g":1,"i":1,"a":1,"e":2,"t":2},
{"v":9.35,"j":0.57,"g":1,"i":1,"a":2,"e":1,"t":1},
{"v":9.36,"j":-0.83,"g":2,"i":1,"a":1,"e":1,"t":1},
{"v":9.37,"j":0.2,"g":1,"i":2,"a":1,"e":2,"t":2},
{"v":9.38,"j":-0.61,"i":1,"e":2,"t":1},
{"v":9.39,"j":0.98,"g":1,"i":1,"a":1,"e":1,"t":1},
{"v":9.4,"j":-0.28,"g":2,"i":2,"a":1,"e":2,"t":1},
{"v":9.41,"j":0.42,"g":1,"i":1,"a":2,"e":1,"t":1},
{"v":9.42,"j":-0.76,"g":1,"i":1,"a":1,"t":2},
{"v":9.43,"j":0.06,"g":2,"i":1,"a":1,"e":2,"t":1},
{"v":9.44,"j":0.69,"g":1,"i":1,"a":1,"e":1,"t":1},
{"v":9.45,"j":-0.46,"g":1,"i":2,"e":2,"t":1},
{"v":9.46,"j":0.32,"g":2,"i":1,"a":1,"e":1,"t":1},
{"v":9.47,"j":-0.94,"g":1,"i":1,"a":2,"e":1,"t":1},
{"v":9.48,"j":0.51,"g":1,"a":1,"e":2,"t":2},
{"v":9.49,"j":-0.15,"g":1,"i":2,"a":1,"e":2,"t":1},
{"v":9.5,"j":0.87,"g":2,"i":1,"a":1,"e":1,"t":1},
{"v":9.51,"j":0.73,"g":2,"i":1,"a":1,"e":2,"t":1},
{"v":9.52,"j":-0.5,"g":1,"i":2,"a":2,"e":1,"t":2},
{"v":9.53,"j":0.21,"g":1,"i":1,"a":1,"e":2,"t":1},
{"v":9.54,"j":-0.9,"g":2,"i":1,"e":1,"t":1},
{"v":9.55,"j":0.45,"g":1,"i":2,"a":1,"e":1,"t":1},
{"v":9.56,"j":-0.17,"g":2,"i":1,"a":1,"e":2,"t":1},
{"v":9.57,"j":0.96,"g":1,"i":1,"a":2,"e":2,"t":2},
{"v":9.58,"j":-0.66,"g":1,"i":2,"a":1,"e":1,"t":1},
{"v":9.59,"j":0.1,"g":2,"i":1,"e":2,"t":1},
{"v":9.6,"j":-0.39,"g":2,"i":1,"a":1,"e":1,"t":1},
{"v":9.61,"j":0.84,"g":1,"i":2,"a":2,"e":2,"t":2},
{"v":9.62,"j":-0.8,"g":1,"i":1,"a":1,"e":1,"t":1},
{"v":9.62,"j":0.33,"g":2,"i":2,"a":1,"e":1,"t":1},
{"v":9.63,"j":-0.04,"g":1,"i":1,"e":2,"t":1},
{"v":9.64,"j":0.6,"g":2,"i":1,"a":2,"e":2,"t":1},
{"v":9.65,"j":-0.24,"g":1,"i":2,"a":1,"e":1,"t":2},
{"v":9.66,"j":0.49,"g":1,"i":1,"a":1,"e":2,"t":1},
{"v":9.67,"j":-0.72,"g":2,"a":2,"e":1,"t":1},
{"v":9.68,"j":0.16,"i":2,"a":1,"t":1},
{"v":9.69,"j":-0.58,"g":2,"i":1,"a":1,"e":2,"t":1},
{"v":9.7,"j":0.27,"g":1,"i":1,"e":1,"t":1},
{"v":9.7,"j":-0.95,"g":2,"i":2,"a":1,"e":1,"t":1},
{"v":9.71,"j":0.64,"g":1,"i":1,"a":2,"e":2,"t":1},
{"v":9.72,"j":0.0,"g":1,"i":1,"a":1,"e":2,"t":2},
{"v":9.73,"j":0.88,"g":2,"i":2,"a":1,"e":1,"t":1},
{"v":9.74,"j":-0.32,"g":2,"i":1,"e":2,"t":1},
{"v":9.75,"j":0.41,"g":1,"i":2,"a":2,"e":1,"t":1},
{"v":9.76,"j":-0.69,"g":1,"i":1,"a":1,"e":2,"t":1},
{"v":9.77,"j":0.14,"g":2,"i":1,"a":1,"e":1,"t":2},
{"v":9.78,"j":-0.13,"g":1,"i":2,"a":2,"e":1,"t":1},
{"v":9.78,"j":0.77,"g":2,"i":1,"a":1,"e":2,"t":1},
{"v":9.79,"j":-0.46,"g":1,"a":1,"e":2,"t":1},
{"v":9.8,"j":0.93,"g":1,"i":2,"a":2,"e":1,"t":1},
{"v":9.81,"j":-0.84,"g":2,"i":1,"a":1,"e":2,"t":2},
{"v":9.82,"j":0.38,"i":2,"e":1,"t":1},
{"v":9.83,"j":-0.22,"g":2,"i":1,"a":1,"t":1},
{"v":9.84,"j":0.55,"g":1,"i":1,"a":1,"e":2,"t":1},
{"v":9.85,"j":-0.06,"g":1,"i":2,"a":2,"e":1,"t":2},
{"v":9.85,"j":0.52,"g":1,"i":2,"a":2,"e":1,"t":1},
{"v":9.86,"j":-0.78,"g":1,"i":1,"a":1,"e":2,"t":1},
{"v":9.87,"j":0.12,"g":2,"i":2,"a":1,"e":2,"t":1},
{"v":9.88,"j":-0.41,"g":2,"i":1,"a":2,"e":1,"t":2},
{"v":9.89,"j":0.97,"g":1,"i":1,"a":1,"e":2,"t":1},
{"v":9.9,"j":-0.11,"g":1,"i":2,"a":1,"e":1,"t":1},
{"v":9.91,"j":0.67,"g":2,"i":1,"a":2,"e":2,"t":1},
{"v":9.92,"j":-0.89,"g":1,"a":1,"e":1,"t":2},
{"v":9.92,"j":0.26,"g":2,"i":2,"e":1,"t":1},
{"v":9.93,"j":-0.54,"g":1,"i":1,"a":1,"e":2,"t":1},
{"v":9.94,"j":0.8,"g":1,"i":2,"a":1,"e":2,"t":1},
{"v":9.95,"j":-0.3,"g":2,"i":1,"a":2,"e":1,"t":1},
{"v":9.96,"j":0.03,"i":1,"a":1,"e":2,"t":2},
{"v":9.97,"j":-0.68,"g":2,"i":2,"e":1,"t":1},
{"v":9.98,"j":0.43,"g":1,"i":1,"a":1,"t":1},
{"v":9.99,"j":-0.97,"g":1,"i":1,"a":2,"e":2,"t":1},
{"v":10.0,"j":0.7,"g":2,"i":2,"a":1,"e":1,"t":1},
{"v":10.02,"j":-0.19,"g":1,"i":1,"a":1,"e":2,"t":2},
{"v":10.03,"j":0.35,"g":2,"i":1,"e":1,"t":1},
{"v":10.04,"j":-0.27,"g":2,"i":2,"a":1,"e":2,"t":1},
{"v":10.05,"j":0.6,"g":1,"i":1,"e":1,"t":2},
{"v":10.07,"j":-0.85,"g":1,"a":1,"e":2,"t":1},
{"v":10.08,"j":0.19,"g":2,"i":2,"a":1,"e":1,"t":1},
{"v":10.1,"j":-0.49,"g":1,"i":1,"a":2,"e":2,"t":1},
{"v":10.11,"j":0.9,"g":2,"i":2,"a":1,"e":1,"t":1},
{"v":10.12,"j":-0.07,"g":1,"i":1,"e":1,"t":2},
{"v":10.13,"j":0.47,"g":1,"i":1,"a":1,"e":2,"t":1},
{"v":10.15,"j":-0.63,"g":2,"i":2,"a":2,"e":2,"t":1},
{"v":10.17,"j":0.3,"i":1,"a":1,"e":1,"t":1},
{"v":10.18,"j":-0.92,"g":2,"i":1,"a":1,"e":2,"t":1},
{"v":10.19,"j":0.76,"g":1,"i":2,"e":1,"t":2},
{"v":10.2,"j":-0.38,"g":1,"i":1,"a":2,"t":1},
{"v":10.22,"j":0.08,"g":2,"i":1,"a":1,"e":2,"t":1},
{"v":10.23,"j":0.58,"g":1,"i":2,"a":1,"e":1,"t":1},
{"v":10.25,"j":-0.74,"g":2,"i":1,"a":2,"e":2,"t":2},
{"v":10.26,"j":0.99,"g":1,"i":2,"a":1,"e":1,"t":1},
{"v":10.27,"j":-0.16,"g":1,"i":1,"a":1,"e":1,"t":1},
{"v":10.28,"j":0.39,"g":2,"i":1,"a":2,"e":2,"t":1},
{"v":10.3,"j":0.63,"g":2,"i":2,"a":1,"e":2,"t":2},
{"v":10.32,"j":-0.35,"g":1,"i":1,"a":2,"e":1,"t":1},
{"v":10.33,"j":0.04,"g":2,"i":1,"a":1,"e":2,"t":1},
{"v":10.34,"j":-0.81,"g":1,"i":2,"a":1,"e":1,"t":1},
{"v":10.35,"j":0.86,"g":1,"i":1,"e":1,"t":2},
{"v":10.37,"j":-0.12,"g":2,"i":1,"a":2,"e":2,"t":1},
{"v":10.38,"j":0.5,"i":2,"a":1,"e":2,"t":1},
{"v":10.4,"j":-0.6,"g":2,"i":1,"a":1,"e":1,"t":1},
{"v":10.41,"j":0.23,"g":1,"i":1,"a":2,"e":2,"t":1},
{"v":10.42,"j":-0.96,"g":1,"i":2,"a":1,"e":1,"t":2},
{"v":10.43,"j":0.74,"g":2,"i":1,"a":1,"t":1},
{"v":10.45,"j":-0.43,"g":1,"i":2,"a":2,"e":2,"t":1},
{"v":10.46,"j":0.15,"g":2,"i":1,"a":1,"e":1,"t":1},
{"v":10.47,"j":-0.7,"g":1,"i":1,"e":2,"t":1},
{"v":10.48,"j":0.41,"g":1,"i":2,"a":1,"e":1,"t":2},
{"v":10.5,"j":-0.23,"g":2,"i":1,"a":1,"e":1,"t":1},
{"v":10.52,"j":-0.88,"g":2,"i":1,"a":1,"e":2,"t":1},
{"v":10.54,"j":0.28,"g":1,"i":2,"a":2,"e":1,"t":2},
{"v":10.55,"j":-0.14,"g":1,"i":1,"a":1,"e":2,"t":1},
{"v":10.56,"j":0.92,"g":2,"i":1,"e":1,"t":1},
{"v":10.58,"j":-0.52,"g":1,"i":2,"a":1,"e":1,"t":1},
{"v":10.6,"j":0.37,"g":2,"i":1,"a":1,"e":2,"t":1},
{"v":10.62,"j":-0.99,"g":1,"i":1,"a":2,"e":2,"t":2},
{"v":10.63,"j":0.66,"g":1,"i":2,"a":1,"e":1,"t":1},
{"v":10.64,"j":0.01,"g":2,"i":1,"e":2,"t":1},
{"v":10.66,"j":-0.4,"g":2,"i":1,"a":1,"e":1,"t":1},
{"v":10.68,"j":0.83,"g":1,"i":2,"a":2,"e":2,"t":2},
{"v":10.7,"j":-0.26,"g":1,"i":1,"a":1,"e":1,"t":1},
{"v":10.71,"j":0.55,"g":2,"i":2,"a":1,"e":1,"t":1},
{"v":10.72,"j":-0.67,"g":1,"i":1,"e":2,"t":1},
{"v":10.74,"j":0.19,"g":2,"i":1,"a":2,"e":2,"t":1},
{"v":10.76,"j":-0.05,"g":1,"i":2,"a":1,"e":1,"t":2},
{"v":10.78,"j":0.47,"g":2,"i":1,"a":1,"e":2,"t":1},
{"v":10.79,"j":-0.79,"g":1,"i":1,"e":1,"t":1},
{"v":10.8,"j":0.14,"g":2,"i":2,"a":1,"e":1,"t":1},
{"v":10.82,"j":-0.31,"g":1,"i":1,"a":2,"e":2,"t":1},
{"v":10.84,"j":0.95,"g":1,"i":1,"a":1,"e":2,"t":2},
{"v":10.86,"j":-0.58,"g":2,"i":2,"a":1,"e":1,"t":1},
{"v":10.87,"j":0.31,"g":2,"i":1,"e":2,"t":1},
{"v":10.88,"j":-0.93,"g":1,"i":2,"a":2,"e":1,"t":1},
{"v":10.9,"j":0.7,"g":1,"i":1,"a":1,"e":2,"t":1},
{"v":10.92,"j":-0.19,"g":2,"i":1,"a":1,"e":1,"t":2},
{"v":10.95,"j":0.58,"g":1,"i":2,"a":2,"e":1,"t":1},
{"v":10.97,"j":-0.45,"g":2,"i":1,"a":1,"e":2,"t":1},
{"v":10.98,"j":0.89,"g":1,"a":1,"e":2,"t":1},
{"v":11.0,"j":-0.02,"g":1,"i":2,"a":2,"e":1,"t":1},
{"v":11.03,"j":0.25,"g":2,"i":1,"a":1,"e":2,"t":2},
{"v":11.05,"j":-0.64,"i":2,"e":1,"t":1},
{"v":11.06,"j":-0.34,"g":1,"i":2,"a":2,"e":1,"t":1},
{"v":11.09,"j":0.81,"g":1,"i":1,"a":1,"e":2,"t":1},
{"v":11.12,"j":-0.7,"g":2,"i":2,"a":1,"e":2,"t":1},
{"v":11.14,"j":0.09,"g":2,"i":1,"a":2,"e":1,"t":2},
{"v":11.15,"j":-0.91,"g":1,"i":1,"a":1,"e":2,"t":1},
{"v":11.18,"j":0.44,"g":1,"i":2,"a":1,"e":1,"t":1},
{"v":11.21,"j":-0.17,"g":2,"i":1,"a":2,"e":2,"t":1},
{"v":11.24,"j":0.62,"g":1,"a":1,"e":1,"t":2},
{"v":11.25,"j":-0.53,"g":2,"i":2,"e":1,"t":1},
{"v":11.27,"j":0.98,"g":1,"i":1,"a":1,"e":2,"t":1},
{"v":11.3,"j":-0.08,"g":1,"i":2,"a":1,"e":2,"t":1},
{"v":11.33,"j":0.35,"g":2,"i":1,"a":2,"e":1,"t":1},
{"v":11.36,"j":-0.82,"i":1,"e":2,"t":2},
{"v":11.4,"j":0.71,"g":2,"i":2,"e":1,"t":1},
{"v":11.44,"j":-0.4,"g":1,"i":1,"t":1},
{"v":11.48,"j":0.2,"g":1,"i":1,"a":2,"e":2,"t":1},
{"v":11.52,"j":0.56,"g":1,"i":1,"e":1,"t":1},
{"v":11.55,"j":-0.74,"g":1,"i":2,"a":2,"e":2,"t":1},
{"v":11.58,"j":0.13,"g":2,"i":1,"e":2,"t":1},
{"v":11.6,"j":-0.29,"g":1,"i":1,"e":1,"t":1},
{"v":11.62,"j":0.9,"g":2,"i":2,"e":2,"t":1},
{"v":11.65,"j":-0.55,"g":1,"i":1,"e":2,"t":1},
{"v":11.68,"j":0.38,"g":2,"i":2,"e":1,"t":1},
{"v":11.7,"j":-0.97,"g":1,"i":2,"a":2,"e":2,"t":1},
{"v":11.73,"j":0.74,"g":2,"i":1,"e":1,"t":1},
{"v":11.76,"j":-0.11,"g":2,"i":1,"e":2,"t":1},
{"v":13.0,"j":0.34,"g":1,"i":2,"a":2,"e":2,"t":2}
]
},
"vconcat": [
{
  "title": {"text": "A", "dx": -52, "dy": 20},
  "width": 648, "height": 180,
  "layer": [
    {"data": {"name": "box"}, "mark": {"type": "rule", "color": "#222", "strokeWidth": 1},
     "encoding": {
       "x": {"field": "t", "type": "nominal", "scale": {"paddingInner": 0.25, "paddingOuter": 0.3}, "axis": {"title": null, "labelAngle": -45, "labelFontSize": 9, "labelPadding": 1}},
       "xOffset": {"field": "g", "type": "nominal", "scale": {"domain": ["Normal", "Tumor"], "paddingInner": 0, "paddingOuter": 0}},
       "y": {"field": "lo", "type": "quantitative", "scale": {"domain": [-0.8, 16.2], "nice": false, "zero": false}, "axis": {"values": [0, 4, 8, 12, 16], "tickCount": 12, "format": "d", "labelFontSize": 8.5, "title": ["The expression of HSPB1", "Log₂ (TPM+1)"]}},
       "y2": {"field": "hi"}}},
    {"data": {"name": "box"}, "mark": {"type": "bar", "stroke": "#222", "strokeWidth": 0.8},
     "encoding": {
       "x": {"field": "t", "type": "nominal"},
       "xOffset": {"field": "g", "type": "nominal"},
       "y": {"field": "q1", "type": "quantitative"},
       "y2": {"field": "q3"},
       "color": {"field": "g", "type": "nominal", "scale": {"domain": ["Normal", "Tumor"], "range": ["#4DBBD5", "#E64B35"]},
                 "legend": {"title": null, "orient": "none", "legendX": 652, "legendY": 72, "symbolType": "square", "symbolSize": 50, "symbolStrokeColor": "#222", "symbolStrokeWidth": 0.8, "labelFontSize": 8.5, "rowPadding": -4, "padding": 0}}}},
    {"data": {"name": "box"}, "mark": {"type": "tick", "color": "#000", "thickness": 2, "size": 8},
     "encoding": {
       "x": {"field": "t", "type": "nominal"},
       "xOffset": {"field": "g", "type": "nominal"},
       "y": {"field": "md", "type": "quantitative"}}},
    {"data": {"name": "out"}, "mark": {"type": "circle", "size": 5, "color": "#333", "opacity": 0.9},
     "encoding": {
       "x": {"field": "t", "type": "nominal"},
       "xOffset": {"field": "g", "type": "nominal"},
       "y": {"field": "v", "type": "quantitative"}}},
    {"data": {"name": "sig"}, "mark": {"type": "text", "fontSize": 8.5, "color": "#555", "baseline": "middle"},
     "encoding": {
       "x": {"field": "t", "type": "nominal"},
       "y": {"datum": 15.4, "type": "quantitative"},
       "text": {"field": "s"}}}
  ]
},
{
  "spacing": 23,
  "resolve": {"scale": {"color": "independent", "xOffset": "independent"}},
  "vconcat": [
  {
    "bounds": "flush",
    "spacing": 85,
    "resolve": {"scale": {"color": "independent", "xOffset": "independent"}},
    "hconcat": [
    {
      "title": {"text": "B", "dx": -52, "dy": 12},
      "width": 175, "height": 195,
      "layer": [
        {"data": {"name": "lihc"}, "transform": [{"filter": "isValid(datum.g)"}], "mark": {"type": "circle", "size": 18, "opacity": 1},
         "encoding": {
           "x": {"field": "g", "type": "nominal", "scale": {"paddingInner": 0.366, "paddingOuter": 0.25, "align": 0.585}, "axis": {"labelExpr": "datum.value == 1 ? 'G1&G2' : 'G3&G4'", "labelAngle": 0, "title": "Histologic grade"}},
           "xOffset": {"field": "j", "type": "quantitative", "scale": {"domain": [-1, 1], "nice": false, "zero": false}},
           "y": {"field": "v", "type": "quantitative", "scale": {"domain": [4, 14], "nice": false, "zero": false}, "axis": {"values": [4, 6, 8, 10, 12, 14], "tickCount": 12, "format": "d", "labelOverlap": false, "title": ["The expression of HSPB1", "Log₂ (TPM+1)"]}},
           "color": {"field": "g", "type": "nominal", "scale": {"domain": [1, 2], "range": ["#4DBBD5", "#E64B35"]}, "legend": null}}},
        {"data": {"name": "stats"}, "transform": [{"filter": "datum.p == 'B'"}], "mark": {"type": "rule", "color": "#000", "strokeWidth": 1.3},
         "encoding": {"x": {"field": "grp", "type": "nominal"}, "y": {"field": "lo", "type": "quantitative"}, "y2": {"field": "hi"}}},
        {"data": {"name": "stats"}, "transform": [{"filter": "datum.p == 'B'"}], "mark": {"type": "tick", "color": "#000", "thickness": 1.3, "size": 32},
         "encoding": {"x": {"field": "grp", "type": "nominal"}, "y": {"field": "m", "type": "quantitative"}}},
        {"data": {"name": "stats"}, "transform": [{"filter": "datum.p == 'B'"}], "mark": {"type": "tick", "color": "#000", "thickness": 1.3, "size": 16},
         "encoding": {"x": {"field": "grp", "type": "nominal"}, "y": {"field": "lo", "type": "quantitative"}}},
        {"data": {"name": "stats"}, "transform": [{"filter": "datum.p == 'B'"}], "mark": {"type": "tick", "color": "#000", "thickness": 1.3, "size": 16},
         "encoding": {"x": {"field": "grp", "type": "nominal"}, "y": {"field": "hi", "type": "quantitative"}}},
        {"data": {"name": "br"}, "transform": [{"filter": "datum.p == 'B'"}], "mark": {"type": "rule", "color": "#222", "strokeWidth": 0.9},
         "encoding": {"x": {"field": "a", "type": "nominal"}, "x2": {"field": "b"}, "y": {"field": "y", "type": "quantitative"}}},
        {"data": {"name": "br"}, "transform": [{"filter": "datum.p == 'B'"}], "mark": {"type": "rule", "color": "#222", "strokeWidth": 0.9},
         "encoding": {"x": {"field": "a", "type": "nominal"}, "y": {"field": "lo", "type": "quantitative"}, "y2": {"field": "y"}}},
        {"data": {"name": "br"}, "transform": [{"filter": "datum.p == 'B'"}], "mark": {"type": "rule", "color": "#222", "strokeWidth": 0.9},
         "encoding": {"x": {"field": "b", "type": "nominal"}, "y": {"field": "lo", "type": "quantitative"}, "y2": {"field": "y"}}},
        {"data": {"name": "br"}, "transform": [{"filter": "datum.p == 'B'"}], "mark": {"type": "text", "fontSize": 8.5, "baseline": "bottom", "dy": -1, "color": "#222"},
         "encoding": {"x": {"field": "a", "type": "nominal", "bandPosition": 1.288}, "y": {"field": "y", "type": "quantitative"}, "text": {"field": "txt"}}}
      ]
    },
    {
      "title": {"text": "C", "dx": -56, "dy": 11},
      "width": 167, "height": 210,
      "layer": [
        {"data": {"name": "nrm"}, "mark": {"type": "circle", "size": 18, "opacity": 1, "color": "#4DBBD5"},
         "encoding": {
           "x": {"datum": 1, "type": "nominal", "scale": {"paddingInner": 0.366, "paddingOuter": 0.2, "align": 0.7}, "axis": {"labelExpr": "datum.value == 1 ? 'Normal' : 'Tumor'", "labelAngle": 0, "title": null}},
           "xOffset": {"field": "j", "type": "quantitative", "scale": {"domain": [-1, 1], "nice": false, "zero": false}},
           "y": {"field": "v", "type": "quantitative", "scale": {"domain": [4, 14], "nice": false, "zero": false}, "axis": {"values": [4, 6, 8, 10, 12, 14], "tickCount": 12, "format": "d", "labelOverlap": false, "title": ["The expression of HSPB1", "Log₂ (TPM+1)"]}}}},
        {"data": {"name": "lihc"}, "mark": {"type": "circle", "size": 18, "opacity": 1, "color": "#E64B35"},
         "encoding": {
           "x": {"datum": 2, "type": "nominal"},
           "xOffset": {"field": "j", "type": "quantitative"},
           "y": {"field": "v", "type": "quantitative"}}},
        {"data": {"name": "stats"}, "transform": [{"filter": "datum.p == 'C'"}], "mark": {"type": "rule", "color": "#000", "strokeWidth": 1.3},
         "encoding": {"x": {"field": "grp", "type": "nominal"}, "y": {"field": "lo", "type": "quantitative"}, "y2": {"field": "hi"}}},
        {"data": {"name": "stats"}, "transform": [{"filter": "datum.p == 'C'"}], "mark": {"type": "tick", "color": "#000", "thickness": 1.3, "size": 32},
         "encoding": {"x": {"field": "grp", "type": "nominal"}, "y": {"field": "m", "type": "quantitative"}}},
        {"data": {"name": "stats"}, "transform": [{"filter": "datum.p == 'C'"}], "mark": {"type": "tick", "color": "#000", "thickness": 1.3, "size": 16},
         "encoding": {"x": {"field": "grp", "type": "nominal"}, "y": {"field": "lo", "type": "quantitative"}}},
        {"data": {"name": "stats"}, "transform": [{"filter": "datum.p == 'C'"}], "mark": {"type": "tick", "color": "#000", "thickness": 1.3, "size": 16},
         "encoding": {"x": {"field": "grp", "type": "nominal"}, "y": {"field": "hi", "type": "quantitative"}}},
        {"data": {"name": "br"}, "transform": [{"filter": "datum.p == 'C'"}], "mark": {"type": "rule", "color": "#222", "strokeWidth": 0.9},
         "encoding": {"x": {"field": "a", "type": "nominal"}, "x2": {"field": "b"}, "y": {"field": "y", "type": "quantitative"}}},
        {"data": {"name": "br"}, "transform": [{"filter": "datum.p == 'C'"}], "mark": {"type": "rule", "color": "#222", "strokeWidth": 0.9},
         "encoding": {"x": {"field": "a", "type": "nominal"}, "y": {"field": "lo", "type": "quantitative"}, "y2": {"field": "y"}}},
        {"data": {"name": "br"}, "transform": [{"filter": "datum.p == 'C'"}], "mark": {"type": "rule", "color": "#222", "strokeWidth": 0.9},
         "encoding": {"x": {"field": "b", "type": "nominal"}, "y": {"field": "lo", "type": "quantitative"}, "y2": {"field": "y"}}},
        {"data": {"name": "br"}, "transform": [{"filter": "datum.p == 'C'"}], "mark": {"type": "text", "fontSize": 8.5, "baseline": "bottom", "dy": -1, "color": "#222"},
         "encoding": {"x": {"field": "a", "type": "nominal", "bandPosition": 1.288}, "y": {"field": "y", "type": "quantitative"}, "text": {"field": "txt"}}}
      ]
    },
    {
      "title": {"text": "D", "dx": -53, "dy": 19},
      "width": 170, "height": 194,
      "layer": [
        {"data": {"name": "lihc"}, "transform": [{"filter": "isValid(datum.i)"}], "mark": {"type": "circle", "size": 18, "opacity": 1},
         "encoding": {
           "x": {"field": "i", "type": "nominal", "scale": {"paddingInner": 0.366, "paddingOuter": 0.22, "align": 0.64}, "axis": {"labelExpr": "datum.value == 1 ? 'No' : 'Yes'", "labelAngle": 0, "title": "Vascular invasion"}},
           "xOffset": {"field": "j", "type": "quantitative", "scale": {"domain": [-1, 1], "nice": false, "zero": false}},
           "y": {"field": "v", "type": "quantitative", "scale": {"domain": [4, 14], "nice": false, "zero": false}, "axis": {"values": [4, 6, 8, 10, 12, 14], "tickCount": 12, "format": "d", "labelOverlap": false, "title": ["The expression of HSPB1", "Log₂ (TPM+1)"]}},
           "color": {"field": "i", "type": "nominal", "scale": {"domain": [1, 2], "range": ["#4DBBD5", "#E64B35"]}, "legend": null}}},
        {"data": {"name": "stats"}, "transform": [{"filter": "datum.p == 'D'"}], "mark": {"type": "rule", "color": "#000", "strokeWidth": 1.3},
         "encoding": {"x": {"field": "grp", "type": "nominal"}, "y": {"field": "lo", "type": "quantitative"}, "y2": {"field": "hi"}}},
        {"data": {"name": "stats"}, "transform": [{"filter": "datum.p == 'D'"}], "mark": {"type": "tick", "color": "#000", "thickness": 1.3, "size": 32},
         "encoding": {"x": {"field": "grp", "type": "nominal"}, "y": {"field": "m", "type": "quantitative"}}},
        {"data": {"name": "stats"}, "transform": [{"filter": "datum.p == 'D'"}], "mark": {"type": "tick", "color": "#000", "thickness": 1.3, "size": 16},
         "encoding": {"x": {"field": "grp", "type": "nominal"}, "y": {"field": "lo", "type": "quantitative"}}},
        {"data": {"name": "stats"}, "transform": [{"filter": "datum.p == 'D'"}], "mark": {"type": "tick", "color": "#000", "thickness": 1.3, "size": 16},
         "encoding": {"x": {"field": "grp", "type": "nominal"}, "y": {"field": "hi", "type": "quantitative"}}},
        {"data": {"name": "br"}, "transform": [{"filter": "datum.p == 'D'"}], "mark": {"type": "rule", "color": "#222", "strokeWidth": 0.9},
         "encoding": {"x": {"field": "a", "type": "nominal"}, "x2": {"field": "b"}, "y": {"field": "y", "type": "quantitative"}}},
        {"data": {"name": "br"}, "transform": [{"filter": "datum.p == 'D'"}], "mark": {"type": "rule", "color": "#222", "strokeWidth": 0.9},
         "encoding": {"x": {"field": "a", "type": "nominal"}, "y": {"field": "lo", "type": "quantitative"}, "y2": {"field": "y"}}},
        {"data": {"name": "br"}, "transform": [{"filter": "datum.p == 'D'"}], "mark": {"type": "rule", "color": "#222", "strokeWidth": 0.9},
         "encoding": {"x": {"field": "b", "type": "nominal"}, "y": {"field": "lo", "type": "quantitative"}, "y2": {"field": "y"}}},
        {"data": {"name": "br"}, "transform": [{"filter": "datum.p == 'D'"}], "mark": {"type": "text", "fontSize": 8.5, "baseline": "bottom", "dy": -1, "color": "#222"},
         "encoding": {"x": {"field": "a", "type": "nominal", "bandPosition": 1.288}, "y": {"field": "y", "type": "quantitative"}, "text": {"field": "txt"}}}
      ]
    }
    ]
  },
  {
    "bounds": "flush",
    "spacing": 83,
    "resolve": {"scale": {"color": "independent", "xOffset": "independent"}},
    "hconcat": [
    {
      "title": {"text": "E", "dx": -51, "dy": 15},
      "width": 178, "height": 193,
      "layer": [
        {"data": {"name": "lihc"}, "transform": [{"filter": "isValid(datum.a)"}], "mark": {"type": "circle", "size": 18, "opacity": 1},
         "encoding": {
           "x": {"field": "a", "type": "nominal", "scale": {"paddingInner": 0.366, "paddingOuter": 0.268, "align": 0.59}, "axis": {"labelExpr": "datum.value == 1 ? '<=400' : '>400'", "labelAngle": 0, "title": "AFP(ng/ml)"}},
           "xOffset": {"field": "j", "type": "quantitative", "scale": {"domain": [-1, 1], "nice": false, "zero": false}},
           "y": {"field": "v", "type": "quantitative", "scale": {"domain": [6, 13.46], "nice": false, "zero": false}, "axis": {"values": [6, 8, 10, 12], "tickCount": 12, "format": "d", "labelOverlap": false, "title": ["The expression of HSPB1", "Log₂ (TPM+1)"]}},
           "color": {"field": "a", "type": "nominal", "scale": {"domain": [1, 2], "range": ["#4DBBD5", "#E64B35"]}, "legend": null}}},
        {"data": {"name": "stats"}, "transform": [{"filter": "datum.p == 'E'"}], "mark": {"type": "rule", "color": "#000", "strokeWidth": 1.3},
         "encoding": {"x": {"field": "grp", "type": "nominal"}, "y": {"field": "lo", "type": "quantitative"}, "y2": {"field": "hi"}}},
        {"data": {"name": "stats"}, "transform": [{"filter": "datum.p == 'E'"}], "mark": {"type": "tick", "color": "#000", "thickness": 1.3, "size": 32},
         "encoding": {"x": {"field": "grp", "type": "nominal"}, "y": {"field": "m", "type": "quantitative"}}},
        {"data": {"name": "stats"}, "transform": [{"filter": "datum.p == 'E'"}], "mark": {"type": "tick", "color": "#000", "thickness": 1.3, "size": 16},
         "encoding": {"x": {"field": "grp", "type": "nominal"}, "y": {"field": "lo", "type": "quantitative"}}},
        {"data": {"name": "stats"}, "transform": [{"filter": "datum.p == 'E'"}], "mark": {"type": "tick", "color": "#000", "thickness": 1.3, "size": 16},
         "encoding": {"x": {"field": "grp", "type": "nominal"}, "y": {"field": "hi", "type": "quantitative"}}},
        {"data": {"name": "br"}, "transform": [{"filter": "datum.p == 'E'"}], "mark": {"type": "rule", "color": "#222", "strokeWidth": 0.9},
         "encoding": {"x": {"field": "a", "type": "nominal"}, "x2": {"field": "b"}, "y": {"field": "y", "type": "quantitative"}}},
        {"data": {"name": "br"}, "transform": [{"filter": "datum.p == 'E'"}], "mark": {"type": "rule", "color": "#222", "strokeWidth": 0.9},
         "encoding": {"x": {"field": "a", "type": "nominal"}, "y": {"field": "lo", "type": "quantitative"}, "y2": {"field": "y"}}},
        {"data": {"name": "br"}, "transform": [{"filter": "datum.p == 'E'"}], "mark": {"type": "rule", "color": "#222", "strokeWidth": 0.9},
         "encoding": {"x": {"field": "b", "type": "nominal"}, "y": {"field": "lo", "type": "quantitative"}, "y2": {"field": "y"}}},
        {"data": {"name": "br"}, "transform": [{"filter": "datum.p == 'E'"}], "mark": {"type": "text", "fontSize": 8.5, "baseline": "bottom", "dy": -1, "color": "#222"},
         "encoding": {"x": {"field": "a", "type": "nominal", "bandPosition": 1.288}, "y": {"field": "y", "type": "quantitative"}, "text": {"field": "txt"}}}
      ]
    },
    {
      "title": {"text": "F", "dx": -57, "dy": 19},
      "width": 170, "height": 194,
      "layer": [
        {"data": {"name": "lihc"}, "transform": [{"filter": "isValid(datum.e)"}], "mark": {"type": "circle", "size": 18, "opacity": 1},
         "encoding": {
           "x": {"field": "e", "type": "nominal", "scale": {"paddingInner": 0.366, "paddingOuter": 0.22, "align": 0.61}, "axis": {"labelExpr": "datum.value == 1 ? '<=60' : '>60'", "labelAngle": 0, "title": "Age"}},
           "xOffset": {"field": "j", "type": "quantitative", "scale": {"domain": [-1, 1], "nice": false, "zero": false}},
           "y": {"field": "v", "type": "quantitative", "scale": {"domain": [4, 14], "nice": false, "zero": false}, "axis": {"values": [4, 6, 8, 10, 12, 14], "tickCount": 12, "format": "d", "labelOverlap": false, "title": ["The expression of HSPB1", "Log₂ (TPM+1)"]}},
           "color": {"field": "e", "type": "nominal", "scale": {"domain": [1, 2], "range": ["#4DBBD5", "#E64B35"]}, "legend": null}}},
        {"data": {"name": "stats"}, "transform": [{"filter": "datum.p == 'F'"}], "mark": {"type": "rule", "color": "#000", "strokeWidth": 1.3},
         "encoding": {"x": {"field": "grp", "type": "nominal"}, "y": {"field": "lo", "type": "quantitative"}, "y2": {"field": "hi"}}},
        {"data": {"name": "stats"}, "transform": [{"filter": "datum.p == 'F'"}], "mark": {"type": "tick", "color": "#000", "thickness": 1.3, "size": 32},
         "encoding": {"x": {"field": "grp", "type": "nominal"}, "y": {"field": "m", "type": "quantitative"}}},
        {"data": {"name": "stats"}, "transform": [{"filter": "datum.p == 'F'"}], "mark": {"type": "tick", "color": "#000", "thickness": 1.3, "size": 16},
         "encoding": {"x": {"field": "grp", "type": "nominal"}, "y": {"field": "lo", "type": "quantitative"}}},
        {"data": {"name": "stats"}, "transform": [{"filter": "datum.p == 'F'"}], "mark": {"type": "tick", "color": "#000", "thickness": 1.3, "size": 16},
         "encoding": {"x": {"field": "grp", "type": "nominal"}, "y": {"field": "hi", "type": "quantitative"}}},
        {"data": {"name": "br"}, "transform": [{"filter": "datum.p == 'F'"}], "mark": {"type": "rule", "color": "#222", "strokeWidth": 0.9},
         "encoding": {"x": {"field": "a", "type": "nominal"}, "x2": {"field": "b"}, "y": {"field": "y", "type": "quantitative"}}},
        {"data": {"name": "br"}, "transform": [{"filter": "datum.p == 'F'"}], "mark": {"type": "rule", "color": "#222", "strokeWidth": 0.9},
         "encoding": {"x": {"field": "a", "type": "nominal"}, "y": {"field": "lo", "type": "quantitative"}, "y2": {"field": "y"}}},
        {"data": {"name": "br"}, "transform": [{"filter": "datum.p == 'F'"}], "mark": {"type": "rule", "color": "#222", "strokeWidth": 0.9},
         "encoding": {"x": {"field": "b", "type": "nominal"}, "y": {"field": "lo", "type": "quantitative"}, "y2": {"field": "y"}}},
        {"data": {"name": "br"}, "transform": [{"filter": "datum.p == 'F'"}], "mark": {"type": "text", "fontSize": 8.5, "baseline": "bottom", "dy": -1, "color": "#222"},
         "encoding": {"x": {"field": "a", "type": "nominal", "bandPosition": 1.288}, "y": {"field": "y", "type": "quantitative"}, "text": {"field": "txt"}}}
      ]
    },
    {
      "title": {"text": "G", "dx": -55, "dy": 19},
      "width": 168, "height": 194,
      "layer": [
        {"data": {"name": "lihc"}, "transform": [{"filter": "isValid(datum.t)"}], "mark": {"type": "circle", "size": 18, "opacity": 1},
         "encoding": {
           "x": {"field": "t", "type": "nominal", "scale": {"paddingInner": 0.366, "paddingOuter": 0.207, "align": 0.62}, "axis": {"labelExpr": "datum.value == 1 ? 'T1&T2' : 'T3&T4'", "labelAngle": 0, "title": "T stage"}},
           "xOffset": {"field": "j", "type": "quantitative", "scale": {"domain": [-1, 1], "nice": false, "zero": false}},
           "y": {"field": "v", "type": "quantitative", "scale": {"domain": [4, 14], "nice": false, "zero": false}, "axis": {"values": [4, 6, 8, 10, 12, 14], "tickCount": 12, "format": "d", "labelOverlap": false, "title": ["The expression of HSPB1", "Log₂ (TPM+1)"]}},
           "color": {"field": "t", "type": "nominal", "scale": {"domain": [1, 2], "range": ["#4DBBD5", "#E64B35"]}, "legend": null}}},
        {"data": {"name": "stats"}, "transform": [{"filter": "datum.p == 'G'"}], "mark": {"type": "rule", "color": "#000", "strokeWidth": 1.3},
         "encoding": {"x": {"field": "grp", "type": "nominal"}, "y": {"field": "lo", "type": "quantitative"}, "y2": {"field": "hi"}}},
        {"data": {"name": "stats"}, "transform": [{"filter": "datum.p == 'G'"}], "mark": {"type": "tick", "color": "#000", "thickness": 1.3, "size": 32},
         "encoding": {"x": {"field": "grp", "type": "nominal"}, "y": {"field": "m", "type": "quantitative"}}},
        {"data": {"name": "stats"}, "transform": [{"filter": "datum.p == 'G'"}], "mark": {"type": "tick", "color": "#000", "thickness": 1.3, "size": 16},
         "encoding": {"x": {"field": "grp", "type": "nominal"}, "y": {"field": "lo", "type": "quantitative"}}},
        {"data": {"name": "stats"}, "transform": [{"filter": "datum.p == 'G'"}], "mark": {"type": "tick", "color": "#000", "thickness": 1.3, "size": 16},
         "encoding": {"x": {"field": "grp", "type": "nominal"}, "y": {"field": "hi", "type": "quantitative"}}},
        {"data": {"name": "br"}, "transform": [{"filter": "datum.p == 'G'"}], "mark": {"type": "rule", "color": "#222", "strokeWidth": 0.9},
         "encoding": {"x": {"field": "a", "type": "nominal"}, "x2": {"field": "b"}, "y": {"field": "y", "type": "quantitative"}}},
        {"data": {"name": "br"}, "transform": [{"filter": "datum.p == 'G'"}], "mark": {"type": "rule", "color": "#222", "strokeWidth": 0.9},
         "encoding": {"x": {"field": "a", "type": "nominal"}, "y": {"field": "lo", "type": "quantitative"}, "y2": {"field": "y"}}},
        {"data": {"name": "br"}, "transform": [{"filter": "datum.p == 'G'"}], "mark": {"type": "rule", "color": "#222", "strokeWidth": 0.9},
         "encoding": {"x": {"field": "b", "type": "nominal"}, "y": {"field": "lo", "type": "quantitative"}, "y2": {"field": "y"}}},
        {"data": {"name": "br"}, "transform": [{"filter": "datum.p == 'G'"}], "mark": {"type": "text", "fontSize": 8.5, "baseline": "bottom", "dy": -1, "color": "#222"},
         "encoding": {"x": {"field": "a", "type": "nominal", "bandPosition": 1.288}, "y": {"field": "y", "type": "quantitative"}, "text": {"field": "txt"}}}
      ]
    }
    ]
  }
  ]
}
]
}
